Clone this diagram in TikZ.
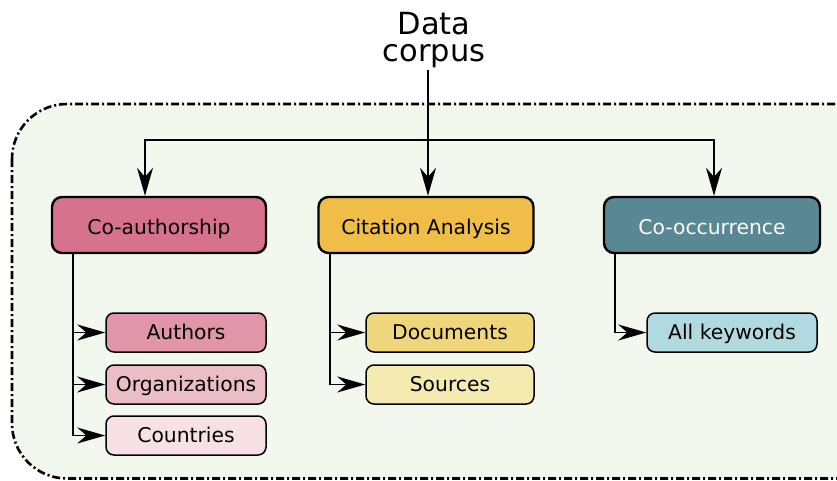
\documentclass[tikz,border=0pt]{standalone}
\usepackage{fontspec}
\setmainfont{DejaVu Sans}
\usetikzlibrary{arrows.meta}
\definecolor{bgc}{HTML}{F3F8EE}
\definecolor{coauthc}{HTML}{D6728E}
\definecolor{authc}{HTML}{E096A8}
\definecolor{orgc}{HTML}{EBBDC7}
\definecolor{countc}{HTML}{F7E1E5}
\definecolor{citc}{HTML}{EFBD48}
\definecolor{docc}{HTML}{F0D67A}
\definecolor{srcc}{HTML}{F5EBB1}
\definecolor{coocc}{HTML}{5A8794}
\definecolor{kwc}{HTML}{B0DAE0}
\tikzset{
  mainbox/.style={draw=black, line width=2.4pt, rounded corners=10pt, minimum width=214pt, minimum height=56pt, inner sep=0pt, text height=19pt, text depth=1pt, font=\fontsize{20.3}{22}\selectfont},
  subbox/.style={draw=black, line width=1.5pt, rounded corners=8pt, minimum height=39pt, inner sep=0pt, text height=15.5pt, text depth=2pt, font=\fontsize{20.3}{22}\selectfont},
  arr/.style={line width=1.5pt, -{Stealth[length=28pt, width=16pt, inset=9pt]}},
}
\begin{document}
\begin{tikzpicture}[x=1pt, y=-1pt]
\useasboundingbox (0,0) rectangle (837,480);
\clip (0,0) rectangle (837,480);
\draw[line width=2.6pt, dash pattern=on 8pt off 3pt on 2pt off 3pt, fill=bgc, rounded corners=55pt] (12,104) rectangle (920,478.5);

\node[align=center, font=\fontsize{30.5}{27}\selectfont, inner sep=2pt] (data) at (434,40) {Data\\corpus};

\node[mainbox, fill=coauthc] (coauth) at (159,225) {Co-authorship};
\node[mainbox, fill=citc, minimum width=215pt] (cit) at (426,225) {Citation Analysis};
\node[mainbox, fill=coocc, minimum width=216pt, text=white] (cooc) at (712,225) {Co-occurrence};

\node[subbox, fill=authc, minimum width=160pt] (auth) at (186,332.5) {Authors};
\node[subbox, fill=orgc, minimum width=160pt] (org) at (186,384.5) {Organizations};
\node[subbox, fill=countc, minimum width=160pt] (count) at (186,435.5) {Countries};
\node[subbox, fill=docc, minimum width=168pt] (doc) at (450,332.5) {Documents};
\node[subbox, fill=srcc, minimum width=168pt] (src) at (450,384.5) {Sources};
\node[subbox, fill=kwc, minimum width=170pt] (kw) at (732,332.5) {All keywords};

\coordinate (bar) at (428,140);
\draw[arr] ([xshift=2pt]cit.north |- data.south) -- ([xshift=2pt]cit.north);
\draw[arr] (bar) -| ([xshift=-14pt]coauth.north);
\draw[arr] (bar) -| ([xshift=2pt]cooc.north);

\draw[arr] ([xshift=-86pt]coauth.south) |- (auth.west);
\draw[arr] ([xshift=-86pt]coauth.south) |- (org.west);
\draw[arr] ([xshift=-86pt]coauth.south) |- (count.west);
\draw[arr] ([xshift=-96pt]cit.south) |- (doc.west);
\draw[arr] ([xshift=-96pt]cit.south) |- (src.west);
\draw[arr] ([xshift=-97pt]cooc.south) |- (kw.west);
\end{tikzpicture}
\end{document}
